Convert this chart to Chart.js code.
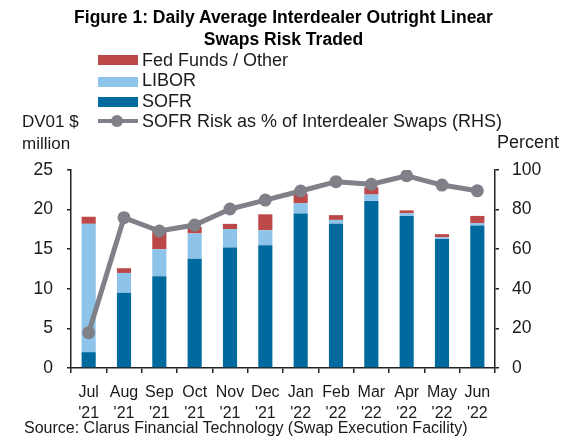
<!DOCTYPE html>
<html>
<head>
<meta charset="utf-8">
<script src="https://cdn.jsdelivr.net/npm/chart.js@4.4.1/dist/chart.umd.min.js"></script>
<style>
  html, body { margin: 0; padding: 0; background: #fff; }
  #wrap { position: relative; width: 567px; height: 438px; overflow: hidden; font-family: "Liberation Sans", Arial, sans-serif; color: #1a1a1a; }
  #c { position: absolute; left: 0; top: 0; }
  .t { position: absolute; white-space: nowrap; }
  #title { left: 0; width: 567px; top: 6px; text-align: center; font-weight: bold; font-size: 17.5px; line-height: 22px; color: #000; }
  .lg { position: absolute; left: 98px; width: 40px; height: 10px; }
  .lgt { position: absolute; left: 142px; font-size: 18px; line-height: 20px; }
</style>
</head>
<body>
<div id="wrap">
  <canvas id="c" width="567" height="438"></canvas>
  <div id="title" class="t">Figure 1: Daily Average Interdealer Outright Linear<br>Swaps Risk Traded</div>
  <div class="lg" style="top:55px;background:#BC4848"></div>
  <div class="lgt" style="top:50px">Fed Funds / Other</div>
  <div class="lg" style="top:77px;background:#8EC3EA"></div>
  <div class="lgt" style="top:70px">LIBOR</div>
  <div class="lg" style="top:97px;background:#006A9E"></div>
  <div class="lgt" style="top:91px">SOFR</div>
  <div class="lg" style="top:119px;height:4px;background:#7F8088"></div>
  <div style="position:absolute;left:111px;top:115px;width:12px;height:12px;border-radius:6px;background:#7F8088"></div>
  <div class="lgt" style="top:111px">SOFR Risk as % of Interdealer Swaps (RHS)</div>
  <div class="t" style="left:22px;top:111px;font-size:17px;line-height:22px;">DV01 $<br>million</div>
  <div class="t" style="left:497px;top:132px;font-size:18px;line-height:20px;">Percent</div>
  <div class="t" style="left:24px;top:419px;font-size:16px;line-height:18px;">Source: Clarus Financial Technology (Swap Execution Facility)</div>
</div>
<script>
const months = ["Jul", "Aug", "Sep", "Oct", "Nov", "Dec", "Jan", "Feb", "Mar", "Apr", "May", "Jun"];
const years = ["'21", "'21", "'21", "'21", "'21", "'21", "'22", "'22", "'22", "'22", "'22", "'22"];
const sofr = [2.0, 9.5, 11.6, 13.8, 15.2, 15.5, 19.5, 18.2, 21.1, 19.2, 16.3, 18.0];
const libor = [16.2, 2.5, 3.4, 3.2, 2.35, 1.9, 1.3, 0.5, 0.8, 0.35, 0.2, 0.3];
const fedFunds = [0.9, 0.6, 2.6, 0.8, 0.65, 2.0, 1.2, 0.6, 0.9, 0.35, 0.4, 0.9];
const sofrShare = [17.8, 75.9, 69.2, 72.2, 80.3, 84.8, 89.4, 94.1, 92.8, 97.1, 92.4, 89.5];
const leftTicks = [0, 5, 10, 15, 20, 25];
const rightTicks = [0, 20, 40, 60, 80, 100];

const labels = months.map((m, i) => [m, years[i]]);
const FONT = "'Liberation Sans', Arial, sans-serif";
const AX = '#222';

new Chart(document.getElementById('c'), {
  type: 'bar',
  data: {
    labels: labels,
    datasets: [
      { label: 'SOFR', data: sofr, backgroundColor: '#006A9E', yAxisID: 'y', order: 1, stack: 's' },
      { label: 'LIBOR', data: libor, backgroundColor: '#8EC3EA', yAxisID: 'y', order: 1, stack: 's' },
      { label: 'Fed Funds / Other', data: fedFunds, backgroundColor: '#BC4848', yAxisID: 'y', order: 1, stack: 's' },
      { type: 'line', label: 'SOFR Risk as % of Interdealer Swaps (RHS)', data: sofrShare, yAxisID: 'y2', order: 0,
        borderColor: '#7F8088', backgroundColor: '#7F8088', borderWidth: 5, pointRadius: 6.5,
        pointBackgroundColor: '#7F8088', pointBorderWidth: 0, tension: 0 }
    ]
  },
  options: {
    responsive: false,
    animation: false,
    devicePixelRatio: 1,
    layout: { padding: { top: 170, left: 0, right: 0, bottom: 0 } },
    plugins: { legend: { display: false }, title: { display: false }, tooltip: { enabled: false } },
    datasets: { bar: { barPercentage: 1, categoryPercentage: 0.4 } },
    scales: {
      x: {
        stacked: true,
        offset: true,
        afterFit: s => { s.height = 70; },
        grid: { display: true, drawOnChartArea: false, offset: true, tickLength: 5, color: AX, lineWidth: 1.5 },
        border: { display: true, color: AX, width: 1.5 },
        ticks: { color: '#1a1a1a', font: { family: FONT, size: 16, lineHeight: 1.3 }, padding: 9, maxRotation: 0, autoSkip: false }
      },
      y: {
        stacked: true,
        position: 'left',
        min: 0, max: 25,
        afterFit: s => { s.width = 71; },
        afterBuildTicks: s => { s.ticks = leftTicks.map(v => ({ value: v })); },
        grid: { display: true, drawOnChartArea: false, tickLength: 4, color: AX, lineWidth: 1.5 },
        border: { display: true, color: AX, width: 1.5 },
        ticks: { color: '#1a1a1a', font: { family: FONT, size: 17.5 }, padding: 14 }
      },
      y2: {
        position: 'right',
        min: 0, max: 100,
        afterFit: s => { s.width = 72; },
        afterBuildTicks: s => { s.ticks = rightTicks.map(v => ({ value: v })); },
        grid: { display: true, drawOnChartArea: false, tickLength: 4, color: AX, lineWidth: 1.5 },
        border: { display: true, color: AX, width: 1.5 },
        ticks: { color: '#1a1a1a', font: { family: FONT, size: 17.5 }, padding: 13 }
      }
    }
  }
});
</script>
</body>
</html>
